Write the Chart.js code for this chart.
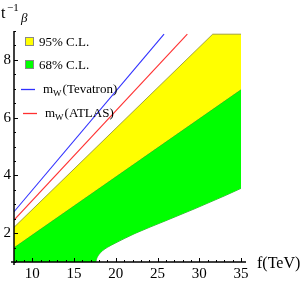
<!DOCTYPE html>
<html>
<head>
<meta charset="utf-8">
<script src="https://cdn.jsdelivr.net/npm/chart.js@4/dist/chart.umd.min.js"></script>
<style>
  html, body { margin: 0; padding: 0; background: #fff; }
  #wrap { width: 305px; height: 283px; }
</style>
</head>
<body>
<div id="wrap"><canvas id="c" width="305" height="283"></canvas></div>
<script>
// values (f in TeV, t^-1_beta)
const xTicks = [10, 15, 20, 25, 30, 35];
const yTicks = [2, 4, 6, 8];

const tevatronF = [7.8, 25.78];
const tevatronT = [2.74, 8.89];
const atlasF = [7.8, 28.57];
const atlasT = [2.45, 8.89];

const cl95UpperF = [7.8, 31.61, 35];
const cl95UpperT = [2.20, 8.89, 8.89];
const cl68UpperF = [7.8, 35];
const cl68UpperT = [1.51, 6.98];
const cl68LowerF = [7.8, 17.6, 17.68, 17.8, 18.0, 18.4, 19.0, 19.9, 21.0, 22.3, 25.9, 29.5, 33.1, 35];
const cl68LowerT = [1.0, 1.0, 1.10, 1.18, 1.27, 1.39, 1.51, 1.65, 1.81, 1.99, 2.42, 2.85, 3.30, 3.55];

const legendLabels = ['95% C.L.', '68% C.L.', 'm_W(Tevatron)', 'm_W(ATLAS)'];

const SERIF = '"Liberation Serif", "DejaVu Serif", serif';

function pts(fs, ts) {
  return fs.map((f, i) => ({ x: f, y: ts[i] }));
}

// draws "m_W(...)" with the W lowered and smaller
function drawSubText(ctx, text, x, y, size) {
  const parts = text.split('_');
  ctx.font = size + 'px ' + SERIF;
  ctx.fillText(parts[0], x, y);
  x += ctx.measureText(parts[0]).width;
  if (parts.length > 1) {
    const sub = parts[1].charAt(0);
    ctx.font = Math.round(size * 0.72) + 'px ' + SERIF;
    ctx.fillText(sub, x, y + 3);
    x += ctx.measureText(sub).width + 1;
    ctx.font = size + 'px ' + SERIF;
    ctx.fillText(parts[1].slice(1), x, y);
  }
}

const frame = {
  id: 'frame',
  afterDatasetsDraw(chart) {
    const ctx = chart.ctx;
    const xs = chart.scales.x, ys = chart.scales.y;
    const x0 = xs.left, y0 = ys.bottom;
    ctx.save();
    ctx.strokeStyle = '#000';
    ctx.lineWidth = 1.5;
    ctx.beginPath();
    ctx.moveTo(x0 - 3, y0); ctx.lineTo(xs.right, y0);
    ctx.moveTo(x0, y0 + 3); ctx.lineTo(x0, ys.top);
    ctx.stroke();
    ctx.lineWidth = 1;
    ctx.beginPath();
    for (let v = 8; v <= 35; v += 1) {
      const px = Math.round(xs.getPixelForValue(v)) + 0.5;
      const len = v % 5 === 0 ? 4 : 2;
      ctx.moveTo(px, y0); ctx.lineTo(px, y0 - len);
    }
    for (let v = 1; v <= 9; v += 0.5) {
      const py = Math.round(ys.getPixelForValue(v)) + 0.5;
      const len = v % 2 === 0 ? 4 : 2;
      ctx.moveTo(x0, py); ctx.lineTo(x0 + len, py);
    }
    ctx.stroke();

    // axis titles
    ctx.fillStyle = '#000';
    ctx.textBaseline = 'alphabetic';
    ctx.textAlign = 'left';
    ctx.font = '16px ' + SERIF;
    ctx.fillText('f(TeV)', 257, 268);
    ctx.fillText('t', 1, 18);
    ctx.font = '11px ' + SERIF;
    ctx.fillText('\u22121', 7, 11);
    ctx.font = 'italic 13px ' + SERIF;
    ctx.fillText('\u03b2', 21, 22);
    ctx.restore();
  },
  afterDraw(chart) {
    const ctx = chart.ctx;
    const ds = chart.data.datasets;
    ctx.save();
    ctx.textBaseline = 'alphabetic';
    ctx.textAlign = 'left';
    // filled regions: squares
    [[2, 42], [3, 65]].forEach(([i, y], k) => {
      ctx.fillStyle = ds[i].backgroundColor;
      ctx.fillRect(25.5, y - 4.5, 8, 8);
      ctx.strokeStyle = '#888';
      ctx.lineWidth = 1;
      ctx.strokeRect(25.5, y - 4.5, 8, 8);
      ctx.fillStyle = '#000';
      drawSubText(ctx, legendLabels[k], 39, y + 4, 13);
    });
    // lines
    [[0, 89, 21, 43], [1, 113, 23, 45]].forEach(([i, y, lx, tx], k) => {
      ctx.strokeStyle = ds[i].borderColor;
      ctx.lineWidth = 1.3;
      ctx.beginPath();
      ctx.moveTo(lx, y + 0.5); ctx.lineTo(lx + 14, y + 0.5);
      ctx.stroke();
      ctx.fillStyle = '#000';
      drawSubText(ctx, legendLabels[k + 2], tx, y + 4, 13);
    });
    ctx.restore();
  }
};

new Chart(document.getElementById('c'), {
  type: 'line',
  data: {
    datasets: [
      { label: legendLabels[2], data: pts(tevatronF, tevatronT), borderColor: '#3030ff', borderWidth: 1.1, pointRadius: 0, fill: false },
      { label: legendLabels[3], data: pts(atlasF, atlasT), borderColor: '#ff3030', borderWidth: 1.1, pointRadius: 0, fill: false },
      { label: legendLabels[0], data: pts(cl95UpperF, cl95UpperT), borderColor: 'rgba(140,140,40,0.8)', borderWidth: 1,
        backgroundColor: '#ffff00', pointRadius: 0, fill: '+1' },
      { label: legendLabels[1], data: pts(cl68UpperF, cl68UpperT), borderColor: 'rgba(90,130,20,0.8)', borderWidth: 1,
        backgroundColor: '#00ff00', pointRadius: 0, fill: '+1' },
      { label: '68% lower', data: pts(cl68LowerF, cl68LowerT), borderColor: 'rgba(30,140,30,0.8)', borderWidth: 1,
        pointRadius: 0, fill: false, cubicInterpolationMode: 'monotone' }
    ]
  },
  options: {
    responsive: false,
    animation: false,
    events: [],
    layout: { padding: { top: 31, right: 59, left: 0, bottom: 0 } },
    plugins: { legend: { display: false }, tooltip: { enabled: false } },
    scales: {
      x: {
        type: 'linear', min: 7.8, max: 35.6,
        grid: { display: false, drawTicks: false },
        border: { display: false },
        afterBuildTicks: s => { s.ticks = xTicks.map(v => ({ value: v })); },
        afterFit: s => { s.height = 21; },
        ticks: { color: '#000', padding: 3, maxRotation: 0, font: { family: SERIF, size: 15 } }
      },
      y: {
        type: 'linear', min: 1, max: 9,
        grid: { display: false, drawTicks: false },
        border: { display: false },
        afterBuildTicks: s => { s.ticks = yTicks.map(v => ({ value: v })); },
        afterFit: s => { s.width = 14; },
        ticks: { color: '#000', padding: 3, font: { family: SERIF, size: 15 } }
      }
    }
  },
  plugins: [frame]
});
</script>
</body>
</html>
